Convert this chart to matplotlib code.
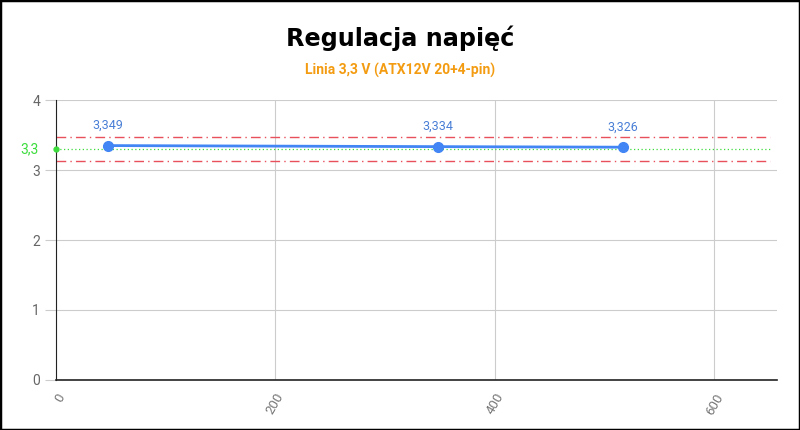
import matplotlib.pyplot as plt
from matplotlib.patches import Rectangle

# obciazenie (W) i zmierzone napiecie (V)
obciazenie = [47, 348, 517]
napiecie = [3.349, 3.334, 3.326]
etykiety = ["3,349", "3,334", "3,326"]

nominal = 3.3
tolerancja = 0.05
x_ticks = [0, 200, 400, 600]
y_ticks = [0, 1, 2, 3, 4]

plt.rcParams["font.family"] = ["Roboto", "DejaVu Sans"]

fig = plt.figure(figsize=(8, 4.3), dpi=100)
ax = fig.add_axes([0.07, 0.1163, 0.901, 0.6511])

ax.axhline(nominal * (1 + tolerancja), color="#e8505b", lw=1, ls=(0, (7, 3, 1, 3)), xmax=0.99)
ax.axhline(nominal * (1 - tolerancja), color="#e8505b", lw=1, ls=(0, (7, 3, 1, 3)), xmax=0.99)
ax.axhline(nominal, color="#3ddc3d", lw=0.9, ls=(0, (1, 2)), xmax=0.99)
ax.plot([0], [nominal], "o", color="#3ddc3d", ms=3.5, clip_on=False, zorder=5)
ax.text(-0.024, nominal, "3,3", color="#3ddc3d", fontsize=10, ha="right", va="center",
        transform=ax.get_yaxis_transform())

ax.plot(obciazenie, napiecie, "-o", color="#4285f4", lw=2, ms=7, zorder=4)
for x, y, t in zip(obciazenie, napiecie, etykiety):
    ax.annotate(t, (x, y), xytext=(0, 10), textcoords="offset points",
                ha="center", va="bottom", color="#4a7fd6", fontsize=9)

ax.set_xlim(0, 657)
ax.set_ylim(0, 4)
ax.set_xticks(x_ticks)
ax.set_yticks(y_ticks)
ax.set_xticklabels([str(v) for v in x_ticks], rotation=60, ha="right", rotation_mode="anchor",
                   color="#777777", fontsize=9.5)
ax.tick_params(axis="y", colors="#cccccc", labelcolor="#666666", labelsize=10, length=8)
ax.tick_params(axis="x", length=0, pad=8)
ax.grid(color="#cccccc", lw=0.8)
ax.set_axisbelow(True)
for s in ["top", "right"]:
    ax.spines[s].set_visible(False)
ax.spines["left"].set_color("#222222")
ax.spines["bottom"].set_color("#222222")
ax.spines["bottom"].set_linewidth(1.2)

fig.text(0.5, 0.912, "Regulacja napięć", ha="center", va="center", fontsize=17.2,
         fontweight="bold", family="DejaVu Sans")
fig.text(0.5, 0.835, "Linia 3,3 V (ATX12V 20+4-pin)", ha="center", va="center",
         fontsize=10, fontweight="bold", color="#f39c12")

fig.patches.append(Rectangle((0, 0), 1, 1, transform=fig.transFigure, fill=False,
                             edgecolor="black", lw=2.5))

fig.savefig("out.png", dpi=100)
